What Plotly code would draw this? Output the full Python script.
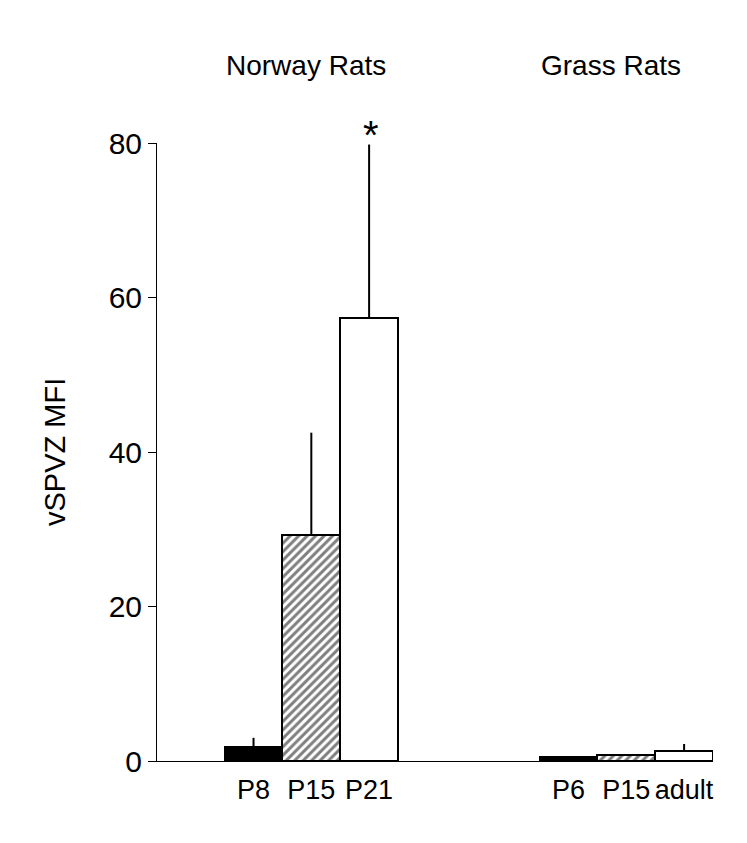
import plotly.graph_objects as go

groups = ["Norway Rats", "Grass Rats"]
norway_labels = ["P8", "P15", "P21"]
norway_means = [1.8, 29.2, 57.3]
norway_err = [1.2, 13.3, 22.5]
grass_labels = ["P6", "P15", "adult"]
grass_means = [0.5, 0.8, 1.3]
grass_err = [0.0, 0.0, 0.9]
y_ticks = [0, 20, 40, 60, 80]

GAP = 3.45
nx = [i for i in range(len(norway_labels))]
gx = [i + GAP + len(norway_labels) - 1 for i in range(len(grass_labels))]

fills = ["black", "white", "white"]
patterns = ["", "/", ""]

fig = go.Figure()
for xs, means, errs in [(nx, norway_means, norway_err), (gx, grass_means, grass_err)]:
    for i in range(3):
        fig.add_trace(go.Bar(
            x=[xs[i]], y=[means[i]], width=1.0,
            marker=dict(color=fills[i], line=dict(color="black", width=2),
                        pattern=dict(shape=patterns[i], fgcolor="black", bgcolor="white",
                                     size=6, solidity=0.5)),
            error_y=dict(type="data", symmetric=False, array=[errs[i]], arrayminus=[0],
                         color="black", thickness=2, width=0, visible=errs[i] > 0),
            showlegend=False,
        ))

fig.add_annotation(x=nx[2], y=norway_means[2] + norway_err[2], text="*", showarrow=False,
                   yanchor="middle", xshift=2, yshift=10, font=dict(size=40, color="black"))
fig.add_annotation(x=(nx[0] + nx[-1]) / 2, y=1, yref="paper", text=groups[0], showarrow=False,
                   yanchor="middle", yshift=78, xshift=-5, font=dict(size=28, color="black"))
fig.add_annotation(x=(gx[0] + gx[-1]) / 2, y=1, yref="paper", text=groups[1], showarrow=False,
                   yanchor="middle", yshift=78, xshift=-15, font=dict(size=28, color="black"))
fig.add_annotation(x=0, xref="paper", y=0.5, yref="paper", text="vSPVZ MFI", textangle=-90,
                   showarrow=False, xanchor="center", yanchor="middle", xshift=-102,
                   font=dict(size=29, color="black"))

fig.update_layout(
    width=747, height=843,
    margin=dict(l=157, r=34, t=143, b=82),
    paper_bgcolor="white", plot_bgcolor="white",
    font=dict(family="Liberation Sans, Arial, sans-serif", color="black"),
    bargap=0,
)
fig.update_xaxes(range=[-1.67, gx[-1] + 0.5], tickvals=nx + gx, ticktext=norway_labels + grass_labels,
                 showline=True, linecolor="black", linewidth=1, ticks="", showgrid=False,
                 zeroline=False, tickfont=dict(size=27), ticklabelstandoff=5)
fig.update_yaxes(range=[0, 80], tickvals=y_ticks, showline=True, linecolor="black", linewidth=1,
                 ticks="outside", ticklen=8, tickcolor="black", showgrid=False, zeroline=False,
                 tickfont=dict(size=30))
fig.write_html("out.html")
